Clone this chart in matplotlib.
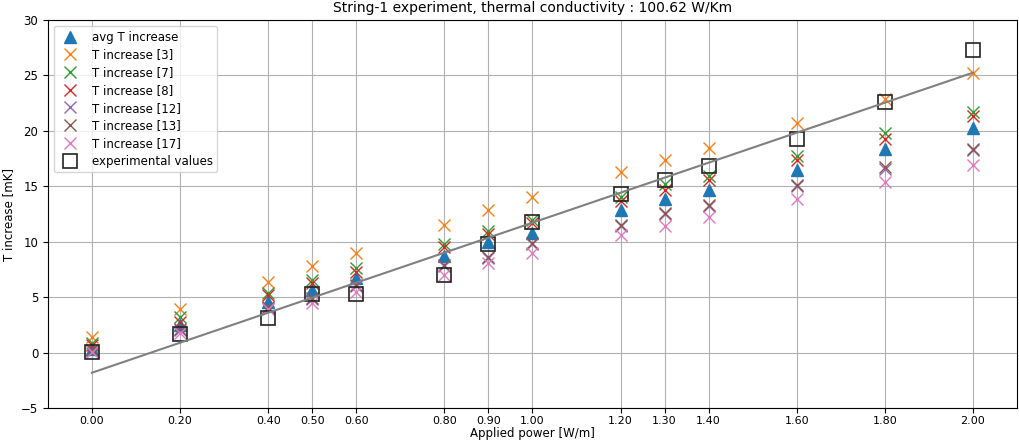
import numpy as np
import matplotlib.pyplot as plt

# puissance appliquee [W/m]
power = [0.0, 0.2, 0.4, 0.5, 0.6, 0.8, 0.9, 1.0, 1.2, 1.3, 1.4, 1.6, 1.8, 2.0]

# elevation de temperature par capteur [mK]
t_avg = [0.3, 2.5, 4.6, 5.65, 6.7, 8.7, 10.0, 10.8, 12.9, 13.9, 14.7, 16.5, 18.4, 20.3]
t3 = [1.38, 3.9, 6.4, 7.8, 8.95, 11.5, 12.86, 14.0, 16.3, 17.4, 18.5, 20.7, 22.9, 25.2]
t7 = [0.9, 3.24, 5.4, 6.55, 7.6, 9.8, 10.96, 11.96, 14.0, 15.2, 15.9, 17.7, 19.8, 21.7]
t8 = [0.7, 2.8, 5.2, 6.3, 7.3, 9.5, 10.7, 11.7, 13.7, 14.7, 15.56, 17.37, 19.3, 21.3]
t12 = [0.15, 2.0, 4.0, 4.85, 6.0, 7.8, 8.55, 9.8, 11.45, 12.5, 13.25, 15.0, 16.6, 18.3]
t13 = [0.2, 2.1, 4.1, 4.9, 6.1, 7.9, 8.6, 9.9, 11.5, 12.55, 13.3, 15.1, 16.7, 18.4]
t17 = [0.1, 1.8, 3.9, 4.45, 5.5, 7.0, 8.1, 8.95, 10.6, 11.4, 12.2, 13.9, 15.35, 16.9]

# valeurs experimentales
t_exp = [0.08, 1.68, 3.15, 5.3, 5.3, 7.0, 9.8, 11.8, 14.3, 15.6, 16.8, 19.3, 22.6, 27.3]

conductivity = 100.62

fig = plt.figure(figsize=(10.2, 4.45), dpi=100)
ax = fig.add_axes([0.047, 0.083, 0.95, 0.872])

ax.plot(power, t_avg, '^', ms=8, color='C0', linestyle='none', label='avg T increase')
series = [(t3, '3'), (t7, '7'), (t8, '8'), (t12, '12'), (t13, '13'), (t17, '17')]
for i, (vals, name) in enumerate(series):
    ax.plot(power, vals, 'x', ms=8, color='C%d' % (i + 1), linestyle='none',
            label='T increase [%s]' % name)
ax.plot(power, t_exp, 's', ms=10, mfc='none', mec='#222222', mew=1.2,
        linestyle='none', label='experimental values')

# regression lineaire sur les valeurs experimentales
slope, intercept = np.polyfit(power, t_exp, 1)
xs = np.array([power[0], power[-1]])
ax.plot(xs, slope * xs + intercept, color='gray', lw=1.5)

ax.set_xticks(power)
ax.set_xticklabels(['%.2f' % p for p in power], fontsize=8)
ax.tick_params(axis='x', pad=2)
ax.tick_params(axis='y', labelsize=8.5)
ax.set_xlim(-0.1, 2.1)
ax.set_ylim(-5, 30)
ax.grid(True)
ax.set_xlabel('Applied power [W/m]', fontsize=8.5, labelpad=1)
ax.set_ylabel('T increase [mK]', fontsize=8.5)
ax.set_title('String-1 experiment, thermal conductivity : %.2f W/Km' % conductivity,
             fontsize=10)
ax.legend(loc='upper left', fontsize=8.5, labelspacing=0.4)

plt.savefig('out.png', dpi=100)
